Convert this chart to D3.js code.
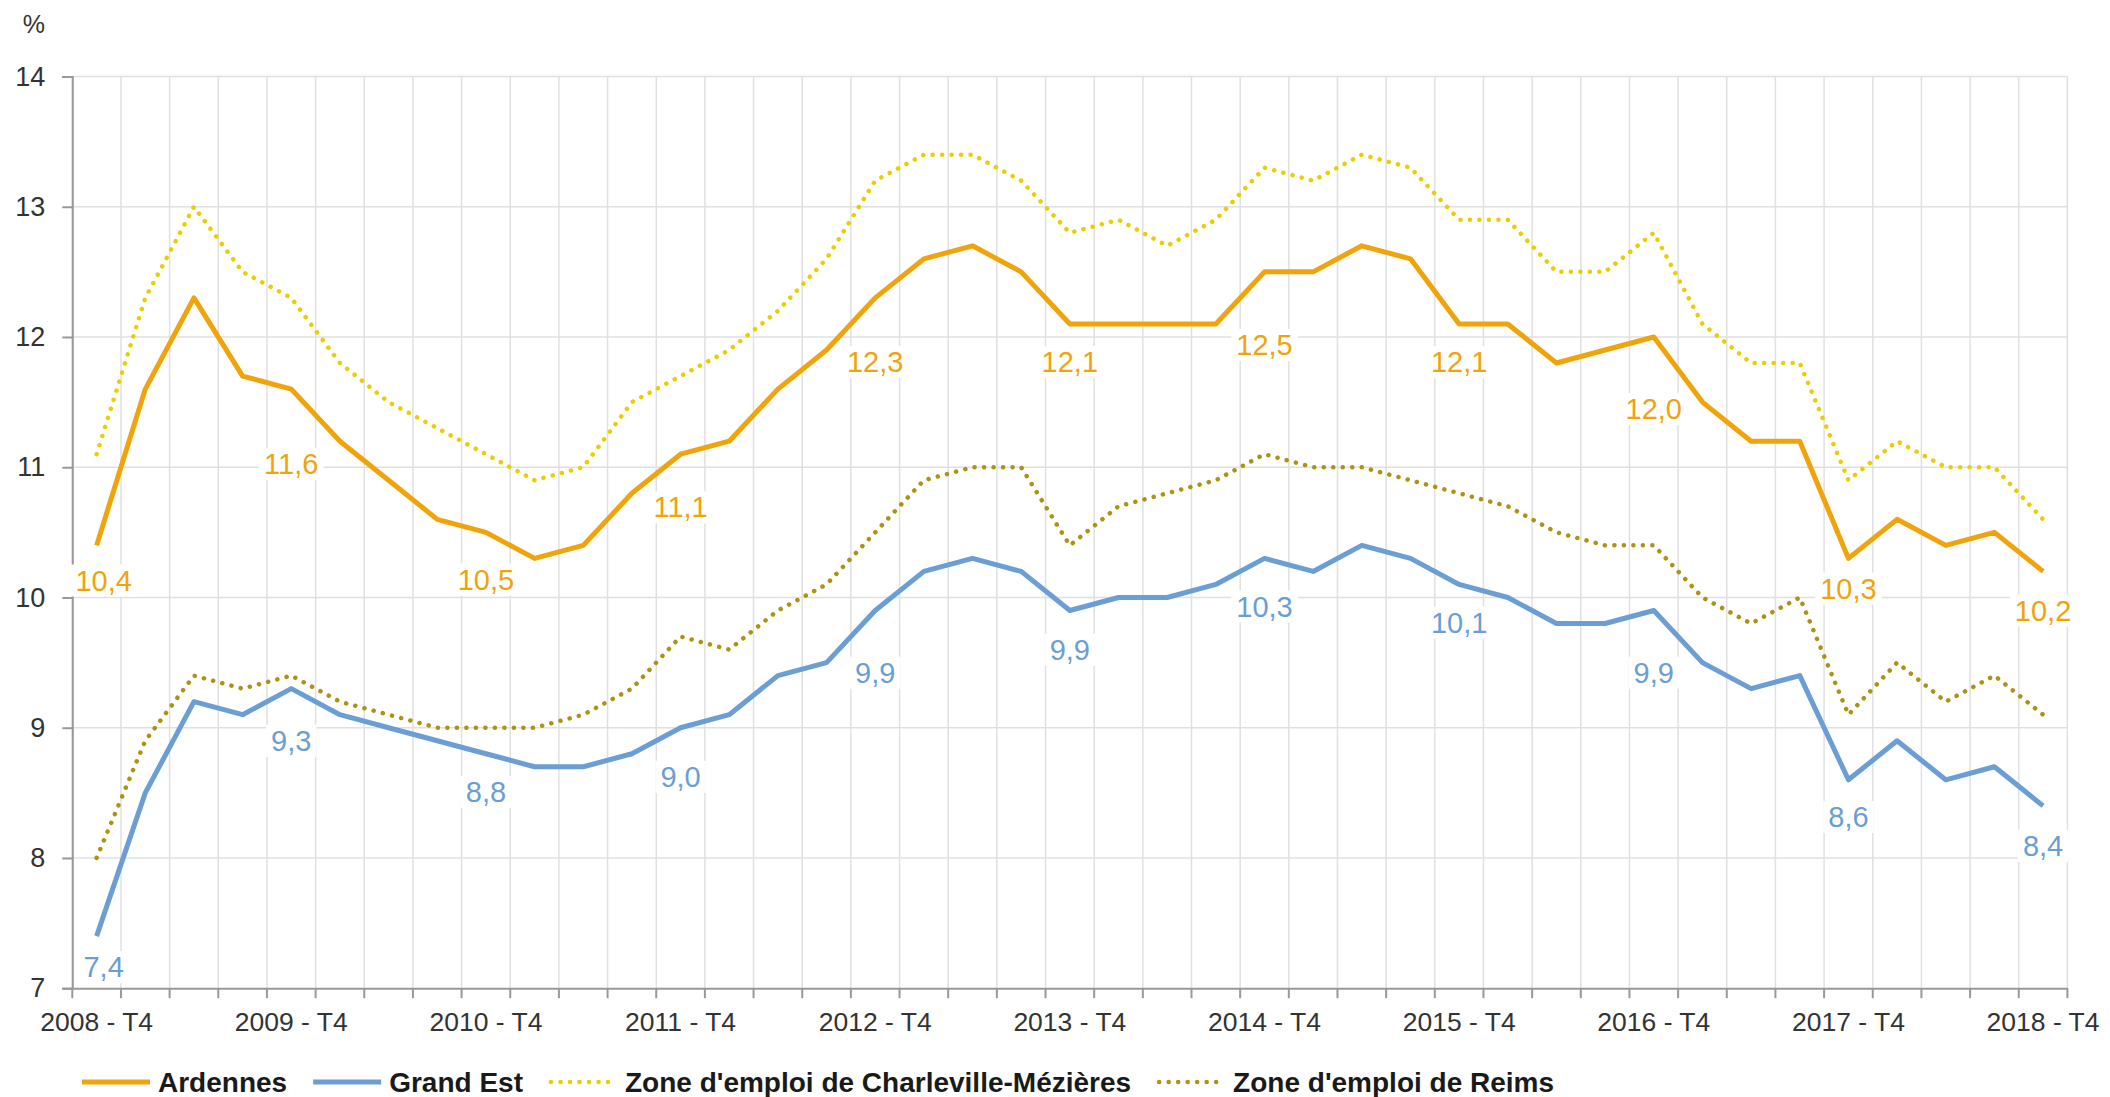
<!DOCTYPE html>
<html lang="fr">
<head>
<meta charset="utf-8">
<script src="https://cdn.jsdelivr.net/npm/d3@7"></script>
<style>
  body { margin: 0; background: #fff; }
  text { font-family: "Liberation Sans", Arial, sans-serif; }
</style>
</head>
<body>
<script>
// quarters on the x axis
var quarters = [
  "2008 - T4",
  "2009 - T1", "2009 - T2", "2009 - T3", "2009 - T4",
  "2010 - T1", "2010 - T2", "2010 - T3", "2010 - T4",
  "2011 - T1", "2011 - T2", "2011 - T3", "2011 - T4",
  "2012 - T1", "2012 - T2", "2012 - T3", "2012 - T4",
  "2013 - T1", "2013 - T2", "2013 - T3", "2013 - T4",
  "2014 - T1", "2014 - T2", "2014 - T3", "2014 - T4",
  "2015 - T1", "2015 - T2", "2015 - T3", "2015 - T4",
  "2016 - T1", "2016 - T2", "2016 - T3", "2016 - T4",
  "2017 - T1", "2017 - T2", "2017 - T3", "2017 - T4",
  "2018 - T1", "2018 - T2", "2018 - T3", "2018 - T4"
];
var tickQuarters = ["2008 - T4", "2009 - T4", "2010 - T4", "2011 - T4", "2012 - T4",
  "2013 - T4", "2014 - T4", "2015 - T4", "2016 - T4", "2017 - T4", "2018 - T4"];
var yTicks = [7, 8, 9, 10, 11, 12, 13, 14];

// unemployment rates (%)
var ardennes = [10.4, 11.6, 12.3, 11.7, 11.6, 11.2, 10.9, 10.6, 10.5, 10.3, 10.4, 10.8,
  11.1, 11.2, 11.6, 11.9, 12.3, 12.6, 12.7, 12.5, 12.1, 12.1, 12.1, 12.1,
  12.5, 12.5, 12.7, 12.6, 12.1, 12.1, 11.8, 11.9, 12.0, 11.5, 11.2, 11.2,
  10.3, 10.6, 10.4, 10.5, 10.2];
var grandEst = [7.4, 8.5, 9.2, 9.1, 9.3, 9.1, 9.0, 8.9, 8.8, 8.7, 8.7, 8.8,
  9.0, 9.1, 9.4, 9.5, 9.9, 10.2, 10.3, 10.2, 9.9, 10.0, 10.0, 10.1,
  10.3, 10.2, 10.4, 10.3, 10.1, 10.0, 9.8, 9.8, 9.9, 9.5, 9.3, 9.4,
  8.6, 8.9, 8.6, 8.7, 8.4];
var charleville = [11.1, 12.3, 13.0, 12.5, 12.3, 11.8, 11.5, 11.3, 11.1, 10.9, 11.0, 11.5,
  11.7, 11.9, 12.2, 12.6, 13.2, 13.4, 13.4, 13.2, 12.8, 12.9, 12.7, 12.9,
  13.3, 13.2, 13.4, 13.3, 12.9, 12.9, 12.5, 12.5, 12.8, 12.1, 11.8, 11.8,
  10.9, 11.2, 11.0, 11.0, 10.6];
var reims = [8.0, 8.9, 9.4, 9.3, 9.4, 9.2, 9.1, 9.0, 9.0, 9.0, 9.1, 9.3,
  9.7, 9.6, 9.9, 10.1, 10.5, 10.9, 11.0, 11.0, 10.4, 10.7, 10.8, 10.9,
  11.1, 11.0, 11.0, 10.9, 10.8, 10.7, 10.5, 10.4, 10.4, 10.0, 9.8, 10.0,
  9.1, 9.5, 9.2, 9.4, 9.1];

// which points carry a value label, and how far below the point it sits
var labelIdx = [0, 4, 8, 12, 16, 20, 24, 28, 32, 36, 40];
var ardennesLabelDy = [35, 75, 47, 53, 64, 38, 73, 38, 72, 30, 39];
var grandEstLabelDy = [31, 52, 38, 49, 62, 39, 48, 38, 62, 37, 40];

var svgWidth = 2110;
var svgHeight = 1097;
var margin = { top: 76.5, right: 42.6, bottom: 108.8, left: 72.3 };
var chartWidth = svgWidth - margin.left - margin.right;
var chartHeight = svgHeight - margin.top - margin.bottom;

var svg = d3.select("body")
  .append("svg")
  .attr("width", svgWidth)
  .attr("height", svgHeight);

var chartGroup = svg.append("g")
  .attr("transform", `translate(${margin.left}, ${margin.top})`);

var xScale = d3.scaleBand()
  .domain(quarters)
  .range([0, chartWidth])
  .padding(0);

var yScale = d3.scaleLinear()
  .domain([7, 14])
  .range([chartHeight, 0]);

var frFormat = d3.formatLocale({ decimal: ",", thousands: " ", grouping: [3], currency: ["", " €"] }).format(".1f");

// gridlines
var boundaries = quarters.map(q => xScale(q)).concat([chartWidth]);
chartGroup.append("g")
  .selectAll("line")
  .data(boundaries).enter()
  .append("line")
  .attr("x1", d => d).attr("x2", d => d)
  .attr("y1", 0).attr("y2", chartHeight)
  .attr("stroke", "#e0e0e0")
  .attr("stroke-width", 1.5);

chartGroup.append("g")
  .selectAll("line")
  .data(yTicks.slice(1)).enter()
  .append("line")
  .attr("x1", 0).attr("x2", chartWidth)
  .attr("y1", d => yScale(d)).attr("y2", d => yScale(d))
  .attr("stroke", "#e0e0e0")
  .attr("stroke-width", 1.5);

// axes
var leftAxis = d3.axisLeft(yScale).tickValues(yTicks).tickFormat(d3.format("d"))
  .tickSize(10).tickPadding(17);
var yAxisG = chartGroup.append("g").call(leftAxis);
yAxisG.select(".domain").attr("stroke", "#999").attr("stroke-width", 2);
yAxisG.selectAll(".tick line").attr("stroke", "#999").attr("stroke-width", 2);
yAxisG.selectAll("text")
  .attr("font-size", "27px")
  .attr("fill", "#333")
  .style("font-family", "'Liberation Sans', Arial, sans-serif");

var bottomAxis = d3.axisBottom(xScale).tickValues(tickQuarters).tickSize(0).tickPadding(24);
var xAxisG = chartGroup.append("g")
  .attr("transform", `translate(0, ${chartHeight})`)
  .call(bottomAxis);
xAxisG.select(".domain").attr("stroke", "#999").attr("stroke-width", 2);
xAxisG.selectAll("text")
  .attr("font-size", "26.5px")
  .attr("fill", "#333")
  .style("font-family", "'Liberation Sans', Arial, sans-serif");

// tick marks on category boundaries
chartGroup.append("g")
  .selectAll("line")
  .data(boundaries).enter()
  .append("line")
  .attr("x1", d => d).attr("x2", d => d)
  .attr("y1", chartHeight).attr("y2", chartHeight + 10)
  .attr("stroke", "#999")
  .attr("stroke-width", 2);

// unit label
svg.append("text")
  .attr("x", 45)
  .attr("y", 33)
  .attr("text-anchor", "end")
  .attr("font-size", "25px")
  .attr("fill", "#333")
  .text("%");

// lines
var series = [
  { name: "Zone d'emploi de Reims", values: reims, color: "#ab9314", dotted: true },
  { name: "Zone d'emploi de Charleville-Mézières", values: charleville, color: "#e8d000", dotted: true },
  { name: "Grand Est", values: grandEst, color: "#6a9ed4", dotted: false },
  { name: "Ardennes", values: ardennes, color: "#f0a30a", dotted: false }
];

var lineGen = d3.line()
  .x((d, i) => xScale(quarters[i]) + xScale.bandwidth() / 2)
  .y(d => yScale(d));

series.forEach(function(s) {
  var path = chartGroup.append("path")
    .datum(s.values)
    .attr("fill", "none")
    .attr("stroke", s.color)
    .attr("d", lineGen);
  if (s.dotted) {
    path.attr("stroke-width", 4.5)
      .attr("stroke-dasharray", "0.1 9.4")
      .attr("stroke-linecap", "round");
  } else {
    path.attr("stroke-width", 5)
      .attr("stroke-linejoin", "round");
  }
});

// value labels with white boxes
function addLabels(values, dys, color) {
  labelIdx.forEach(function(idx, k) {
    var cx = xScale(quarters[idx]) + xScale.bandwidth() / 2;
    if (idx === 0) cx += 7;
    var cy = yScale(values[idx]) + dys[k];
    var g = chartGroup.append("g");
    var rect = g.append("rect").attr("fill", "#fff");
    var t = g.append("text")
      .attr("x", cx)
      .attr("y", cy)
      .attr("dy", "0.35em")
      .attr("text-anchor", "middle")
      .attr("font-size", "29px")
      .attr("fill", color)
      .text(frFormat(values[idx]));
    var bb = t.node().getBBox();
    rect.attr("x", bb.x - 5).attr("y", bb.y)
      .attr("width", bb.width + 10).attr("height", bb.height);
  });
}
addLabels(ardennes, ardennesLabelDy, "#f0a30a");
addLabels(grandEst, grandEstLabelDy, "#6a9ed4");

// legend
var legendOrder = [series[3], series[2], series[1], series[0]];
var legend = svg.append("g").attr("transform", "translate(82, 1082)");
var lx = 0;
legendOrder.forEach(function(s) {
  var sample = legend.append("line")
    .attr("x1", lx).attr("x2", lx + 68)
    .attr("y1", 0).attr("y2", 0)
    .attr("stroke", s.color);
  if (s.dotted) {
    sample.attr("stroke-width", 4.5)
      .attr("stroke-dasharray", "0.1 9.4")
      .attr("stroke-linecap", "round")
      .attr("x1", lx + 2);
  } else {
    sample.attr("stroke-width", 5);
  }
  var t = legend.append("text")
    .attr("x", lx + 76)
    .attr("y", 10)
    .attr("font-size", "28px")
    .attr("font-weight", "bold")
    .attr("fill", "#1a1a1a")
    .text(s.name);
  lx += 76 + t.node().getComputedTextLength() + 26;
});
</script>
</body>
</html>
